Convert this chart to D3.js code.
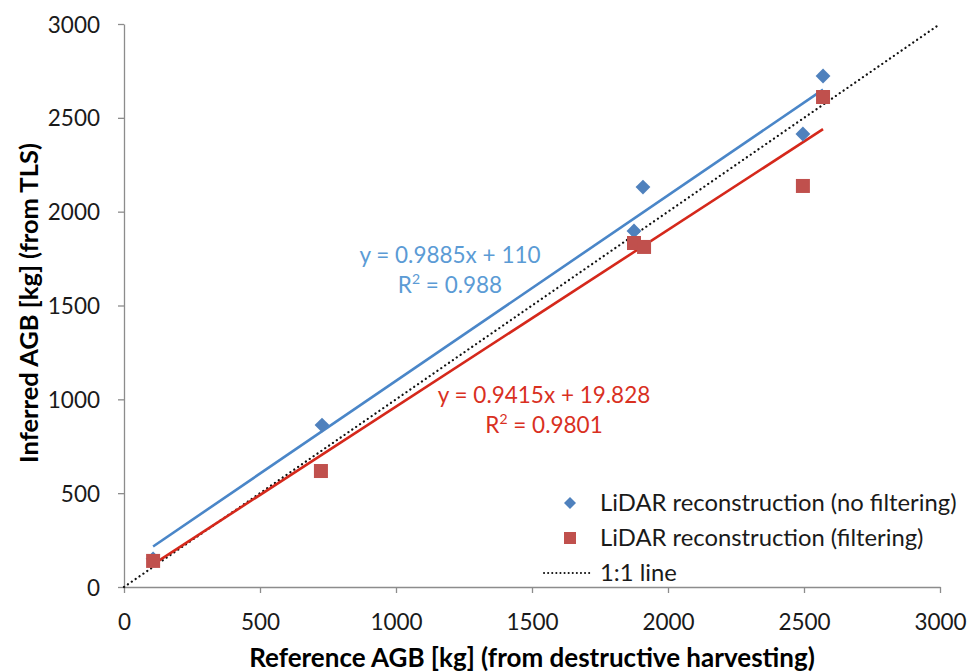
<!DOCTYPE html>
<html>
<head>
<meta charset="utf-8">
<script src="https://cdn.jsdelivr.net/npm/d3@7"></script>
<style>
    body { margin: 0; background: #fff; }
    svg text { font-family: Lato, "Open Sans", sans-serif; }
</style>
</head>
<body>
<div class="js-canvas"></div>
<script>
'use strict';

// reference AGB (x) and inferred AGB (y)
const refAGB = [107, 728, 1875, 1908, 2496, 2570];
const noFilter = [150, 863, 1897, 2131, 2414, 2723];
const refAGBf = [107, 724, 1875, 1912, 2496, 2570];
const filtered = [139, 618, 1833, 1812, 2137, 2611];

// trendline coefficients as printed on the chart
const fitNoFilter = { slope: 0.9885, intercept: 110, label: 'y = 0.9885x + 110', r2: '0.988' };
const fitFiltered = { slope: 0.9415, intercept: 19.828, label: 'y = 0.9415x + 19.828', r2: '0.9801' };

const ticks = [0, 500, 1000, 1500, 2000, 2500, 3000];
const legendLabels = ['LiDAR reconstruction (no filtering)', 'LiDAR reconstruction (filtering)', '1:1 line'];

const config = {
    width: 967,
    height: 672,
    margin: { top: 24, right: 27, bottom: 85, left: 124 },
    blue: '#4f81bd',
    red: '#c0504d',
    blueLine: '#4a86c8',
    redLine: '#d5281b',
    blueText: '#5b9bd5',
    redText: '#d9301f',
    font: '22.5px',
    legendFont: '23.8px',
    titleFont: '26px'
};

const graphWidth = config.width - config.margin.left - config.margin.right;
const graphHeight = config.height - config.margin.top - config.margin.bottom;

const svg = d3.select('.js-canvas')
    .append('svg')
    .attr('width', config.width)
    .attr('height', config.height);

const graph = svg.append('g')
    .attr('transform', `translate(${config.margin.left}, ${config.margin.top})`);

const x = d3.scaleLinear().domain([0, 3000]).range([0, graphWidth]);
const y = d3.scaleLinear().domain([0, 3000]).range([graphHeight, 0]);

// axes
const xAxis = d3.axisBottom(x).tickValues(ticks).tickSize(6).tickSizeOuter(0).tickFormat(d3.format('d'));
const yAxis = d3.axisLeft(y).tickValues(ticks).tickSize(6).tickSizeOuter(0).tickFormat(d3.format('d'));

const xAxisGroup = graph.append('g')
    .attr('transform', `translate(0, ${graphHeight})`)
    .call(xAxis);
const yAxisGroup = graph.append('g').call(yAxis);

[xAxisGroup, yAxisGroup].forEach(g => {
    g.select('.domain').attr('stroke', '#8c8c8c').attr('stroke-width', 1.3);
    g.selectAll('.tick line').attr('stroke', '#8c8c8c').attr('stroke-width', 1.3);
    g.selectAll('.tick text')
        .attr('fill', '#1a1a1a')
        .style('font-size', config.font);
});
xAxisGroup.selectAll('.tick text').attr('y', 43).attr('dy', 0);
yAxisGroup.selectAll('.tick text').attr('dy', '0.36em').attr('x', -24);

// 1:1 line
graph.append('line')
    .attr('x1', x(0)).attr('y1', y(0))
    .attr('x2', x(3000)).attr('y2', y(3000))
    .attr('stroke', '#111')
    .attr('stroke-width', 2.2)
    .attr('stroke-linecap', 'round')
    .attr('stroke-dasharray', '0.1 4.6');

// trendlines from min to max x
const trend = (fit, xs, color) => {
    const [lo, hi] = d3.extent(xs);
    graph.append('line')
        .attr('x1', x(lo)).attr('y1', y(fit.slope * lo + fit.intercept))
        .attr('x2', x(hi)).attr('y2', y(fit.slope * hi + fit.intercept))
        .attr('stroke', color)
        .attr('stroke-width', 2.6);
};
trend(fitNoFilter, refAGB, config.blueLine);
trend(fitFiltered, refAGBf, config.redLine);

// markers
const diamond = d3.symbol().type(d3.symbolSquare).size(110);
graph.selectAll('.blue')
    .data(refAGB.map((d, i) => [d, noFilter[i]]))
    .enter()
    .append('path')
    .attr('d', diamond)
    .attr('transform', d => `translate(${x(d[0])}, ${y(d[1])}) rotate(45)`)
    .attr('fill', config.blue);

graph.selectAll('.red')
    .data(refAGBf.map((d, i) => [d, filtered[i]]))
    .enter()
    .append('rect')
    .attr('x', d => x(d[0]) - 7)
    .attr('y', d => y(d[1]) - 7)
    .attr('width', 14)
    .attr('height', 14)
    .attr('fill', config.red);

// equation labels
const eq = (fit, cx, cy, color) => {
    graph.append('text')
        .attr('x', cx).attr('y', cy)
        .attr('text-anchor', 'middle')
        .attr('fill', color)
        .style('font-size', config.font)
        .text(fit.label);
    const r = graph.append('text')
        .attr('x', cx).attr('y', cy + 30)
        .attr('text-anchor', 'middle')
        .attr('fill', color)
        .style('font-size', config.font);
    r.append('tspan').text('R');
    r.append('tspan').attr('dy', -9).style('font-size', '14px').text('2');
    r.append('tspan').attr('dy', 9).text(' = ' + fit.r2);
};
eq(fitNoFilter, 450 - config.margin.left, 263 - config.margin.top, config.blueText);
eq(fitFiltered, 544 - config.margin.left, 403 - config.margin.top, config.redText);

// legend
const legend = svg.append('g').attr('transform', 'translate(570, 503)');
legend.append('path')
    .attr('d', d3.symbol().type(d3.symbolSquare).size(72))
    .attr('transform', 'rotate(45)')
    .attr('fill', config.blue);
legend.append('rect')
    .attr('x', -6).attr('y', 35 - 6)
    .attr('width', 12).attr('height', 12)
    .attr('fill', config.red);
legend.append('line')
    .attr('x1', -26).attr('y1', 70).attr('x2', 22).attr('y2', 70)
    .attr('stroke', '#111')
    .attr('stroke-width', 2)
    .attr('stroke-linecap', 'round')
    .attr('stroke-dasharray', '0.1 4');
legend.selectAll('.lbl')
    .data(legendLabels)
    .enter()
    .append('text')
    .attr('x', 30)
    .attr('y', (d, i) => i * 35)
    .attr('dy', '0.35em')
    .attr('fill', '#1a1a1a')
    .style('font-size', config.legendFont)
    .text(d => d);

// axis titles
svg.append('text')
    .attr('x', 532).attr('y', 667)
    .attr('text-anchor', 'middle')
    .attr('font-weight', 'bold')
    .attr('fill', '#000')
    .style('font-size', config.titleFont)
    .text('Reference AGB [kg] (from destructive harvesting)');

svg.append('text')
    .attr('transform', 'translate(38, 303) rotate(-90)')
    .attr('text-anchor', 'middle')
    .attr('font-weight', 'bold')
    .attr('fill', '#000')
    .style('font-size', '25.5px')
    .text('Inferred AGB [kg] (from TLS)');
</script>
</body>
</html>
